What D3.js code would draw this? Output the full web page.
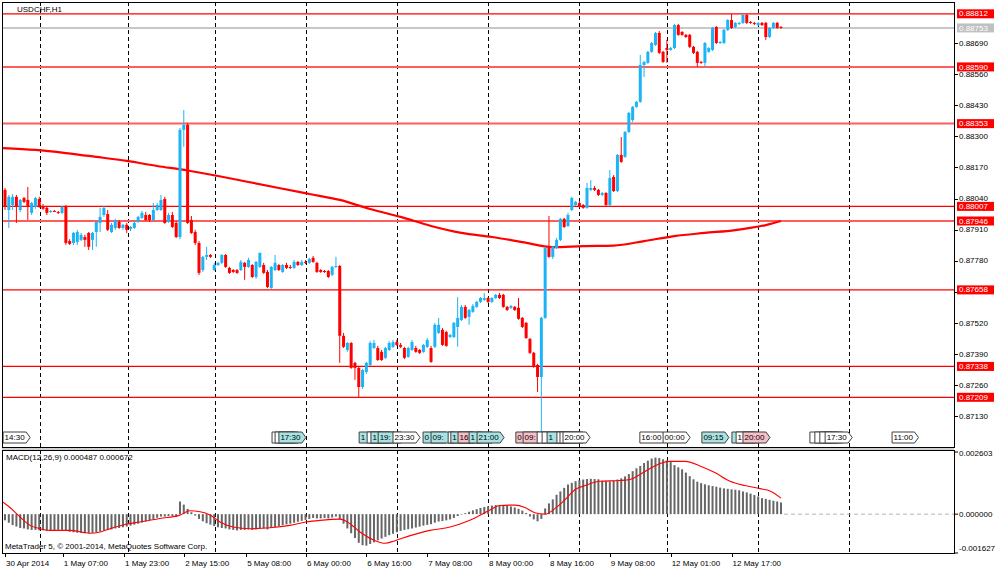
<!DOCTYPE html>
<html>
<head>
<meta charset="utf-8">
<script src="https://cdn.jsdelivr.net/npm/d3@7"></script>
<style>
  body { margin: 0; background: #fff; }
  text { font-family: "Liberation Sans", Arial, sans-serif; font-size: 8px; fill: #000; }
</style>
</head>
<body>
<svg id="chart" width="1000" height="574"></svg>
<script>
// USDCHF H1, 30 Apr 2014 15:00 .. 13 May 2014 ; one row per bar: open, high, low, close
const bars = [
  [.88076,.88084,.87992,.88005],[.87992,.88055,.87917,.88047],[.88013,.88059,.87992,.88047],[.88047,.88055,.87938,.88005],
  [.87992,.88038,.87984,.88034],[.88042,.88047,.88021,.88026],[.88034,.88088,.87950,.88005],[.87980,.88026,.87971,.88021],
  [.88005,.88047,.87997,.88042],[.88038,.88047,.88001,.88005],[.88005,.88017,.87992,.87997],[.88001,.88009,.87971,.87980],
  [.87984,.87992,.87980,.87988],[.87988,.87992,.87984,.87986],[.87984,.87988,.87975,.87980],[.87980,.88009,.87975,.88005],
  [.88005,.88013,.87846,.87854],[.87862,.87870,.87846,.87850],[.87854,.87900,.87846,.87896],[.87858,.87909,.87846,.87900],
  [.87867,.87896,.87862,.87888],[.87879,.87888,.87838,.87867],[.87896,.87900,.87825,.87838],[.87867,.87900,.87825,.87896],
  [.87900,.87942,.87838,.87942],[.87938,.88001,.87900,.87963],[.87971,.88009,.87963,.88001],[.87975,.87992,.87904,.87909],
  [.87900,.87938,.87896,.87930],[.87917,.87955,.87909,.87950],[.87942,.87950,.87913,.87917],[.87917,.87934,.87909,.87930],
  [.87930,.87938,.87896,.87909],[.87913,.87925,.87904,.87921],[.87917,.87946,.87913,.87938],[.87942,.87967,.87938,.87963],
  [.87959,.87988,.87955,.87980],[.87971,.87984,.87946,.87950],[.87971,.87975,.87942,.87950],[.87950,.88021,.87946,.87992],
  [.87992,.88021,.87988,.88013],[.87992,.88055,.87988,.88034],[.88038,.88047,.87934,.87938],[.87942,.87980,.87938,.87971],
  [.87971,.87984,.87917,.87921],[.87938,.87946,.87875,.87879],[.87879,.88335,.87870,.88327],[.88327,.88410,.88256,.88348],
  [.88348,.88356,.87934,.87938],[.87950,.87967,.87892,.87896],[.87900,.87909,.87846,.87854],[.87854,.87862,.87720,.87729],
  [.87741,.87800,.87733,.87796],[.87796,.87838,.87783,.87804],[.87804,.87808,.87792,.87796],[.87741,.87771,.87737,.87762],
  [.87762,.87775,.87758,.87771],[.87771,.87808,.87766,.87804],[.87804,.87808,.87750,.87754],[.87750,.87754,.87725,.87729],
  [.87741,.87745,.87729,.87733],[.87741,.87745,.87725,.87729],[.87741,.87783,.87737,.87775],[.87771,.87775,.87700,.87754],
  [.87754,.87792,.87750,.87783],[.87762,.87766,.87708,.87712],[.87712,.87779,.87704,.87775],[.87754,.87813,.87750,.87813],
  [.87762,.87771,.87725,.87729],[.87733,.87741,.87666,.87670],[.87666,.87758,.87662,.87754],[.87741,.87804,.87737,.87771],
  [.87762,.87766,.87737,.87741],[.87733,.87766,.87729,.87762],[.87762,.87771,.87745,.87750],[.87754,.87762,.87745,.87750],
  [.87750,.87783,.87745,.87775],[.87775,.87779,.87758,.87762],[.87762,.87783,.87758,.87775],[.87775,.87783,.87766,.87771],
  [.87771,.87792,.87766,.87787],[.87792,.87800,.87771,.87775],[.87771,.87775,.87729,.87733],[.87741,.87745,.87729,.87733],
  [.87737,.87741,.87729,.87733],[.87737,.87741,.87708,.87712],[.87721,.87758,.87716,.87754],[.87754,.87796,.87750,.87758],
  [.87758,.87762,.87353,.87466],[.87466,.87478,.87415,.87420],[.87407,.87440,.87399,.87436],[.87436,.87440,.87328,.87332],
  [.87353,.87357,.87282,.87332],[.87332,.87336,.87211,.87252],[.87252,.87328,.87244,.87323],[.87315,.87357,.87307,.87353],
  [.87344,.87444,.87340,.87436],[.87415,.87449,.87411,.87436],[.87415,.87424,.87361,.87365],[.87399,.87407,.87361,.87365],
  [.87374,.87420,.87369,.87415],[.87407,.87444,.87403,.87436],[.87420,.87449,.87415,.87440],[.87440,.87449,.87424,.87428],
  [.87428,.87436,.87415,.87420],[.87415,.87420,.87369,.87374],[.87378,.87420,.87374,.87415],[.87407,.87449,.87403,.87440],
  [.87415,.87424,.87395,.87399],[.87407,.87411,.87390,.87395],[.87399,.87432,.87395,.87428],[.87420,.87457,.87415,.87449],
  [.87415,.87424,.87353,.87357],[.87420,.87520,.87415,.87512],[.87478,.87541,.87474,.87512],[.87491,.87499,.87424,.87428],
  [.87482,.87487,.87420,.87424],[.87461,.87474,.87457,.87470],[.87461,.87524,.87457,.87520],[.87503,.87628,.87420,.87541],
  [.87532,.87595,.87528,.87587],[.87587,.87595,.87537,.87541],[.87545,.87578,.87512,.87574],[.87566,.87599,.87562,.87591],
  [.87587,.87612,.87583,.87608],[.87608,.87628,.87603,.87624],[.87616,.87645,.87612,.87624],[.87624,.87628,.87603,.87608],
  [.87608,.87628,.87603,.87624],[.87624,.87641,.87620,.87637],[.87637,.87645,.87620,.87624],[.87637,.87641,.87583,.87587],
  [.87587,.87591,.87570,.87574],[.87583,.87595,.87578,.87591],[.87587,.87591,.87570,.87574],[.87583,.87624,.87533,.87537],
  [.87541,.87545,.87499,.87503],[.87520,.87524,.87453,.87457],[.87453,.87457,.87390,.87395],[.87395,.87399,.87332,.87336],
  [.87344,.87349,.87231,.87294],[.87294,.87545,.87031,.87541],[.87541,.87838,.87537,.87833],[.87833,.87967,.87792,.87796],
  [.87796,.87842,.87787,.87838],[.87833,.87875,.87829,.87867],[.87867,.87959,.87862,.87955],[.87955,.87959,.87917,.87921],
  [.87925,.87980,.87921,.87971],[.87992,.88047,.87988,.88042],[.88013,.88030,.88009,.88026],[.88021,.88030,.88001,.88005],
  [.88013,.88017,.87997,.88001],[.88001,.88105,.87997,.88084],[.88076,.88117,.88071,.88084],[.88084,.88092,.88071,.88076],
  [.88076,.88080,.88050,.88055],[.88055,.88067,.88050,.88063],[.88063,.88067,.88009,.88013],[.88013,.88159,.88009,.88126],
  [.88130,.88138,.88067,.88071],[.88071,.88226,.88067,.88222],[.88222,.88297,.88189,.88193],[.88214,.88322,.88210,.88318],
  [.88318,.88402,.88314,.88398],[.88368,.88427,.88360,.88423],[.88423,.88448,.88419,.88444],[.88444,.88640,.88440,.88598],
  [.88598,.88615,.88548,.88611],[.88607,.88657,.88603,.88653],[.88653,.88694,.88649,.88690],[.88682,.88736,.88678,.88732],
  [.88732,.88740,.88644,.88649],[.88653,.88657,.88607,.88611],[.88669,.88703,.88607,.88661],[.88661,.88674,.88657,.88669],
  [.88669,.88770,.88665,.88765],[.88765,.88770,.88720,.88724],[.88736,.88740,.88720,.88724],[.88724,.88728,.88711,.88715],
  [.88724,.88728,.88669,.88674],[.88674,.88678,.88644,.88649],[.88653,.88657,.88590,.88607],[.88611,.88615,.88603,.88607],
  [.88607,.88694,.88590,.88690],[.88653,.88673,.88649,.88669],[.88661,.88757,.88657,.88753],[.88757,.88761,.88686,.88690],
  [.88690,.88699,.88686,.88694],[.88690,.88749,.88686,.88745],[.88745,.88790,.88740,.88786],[.88786,.88811,.88749,.88753],
  [.88757,.88778,.88753,.88774],[.88770,.88778,.88765,.88774],[.88774,.88811,.88770,.88807],[.88807,.88811,.88770,.88774],
  [.88778,.88782,.88770,.88774],[.88774,.88778,.88765,.88770],[.88765,.88778,.88761,.88774],[.88774,.88778,.88761,.88765],
  [.88774,.88778,.88703,.88715],[.88715,.88757,.88711,.88753],[.88753,.88778,.88749,.88774],[.88774,.88778,.88749,.88753],
  [.88757,.88761,.88749,.88753]
];

// moving average read at sample bars
const maBar = [-0.5, 8, 16, 24, 32, 40, 48, 56, 64, 72, 80, 88, 96, 104, 112, 120, 128, 136, 144, 152, 160, 168, 176, 184, 192, 200, 204];
const maVal = [.88251, .88243, .88230, .88214, .88197, .88176, .88157, .88134, .88109, .88084, .88059, .88034, .87996,
               .87963, .87925, .87896, .87879, .87858, .87837, .87841, .87843, .87862, .87883, .87896, .87908, .87929, .87946];

// MACD(12,26,9) histogram, one per bar
const macdHist = [
  -.00026,-.00036,-.00046,-.00052,-.00058,-.00060,-.00064,-.00066,-.00066,-.00068,-.00068,-.00070,-.00070,-.00068,-.00066,-.00066,
  -.00070,-.00074,-.00076,-.00078,-.00078,-.00080,-.00080,-.00078,-.00076,-.00072,-.00068,-.00066,-.00064,-.00060,-.00058,-.00055,
  -.00052,-.00048,-.00044,-.00040,-.00035,-.00030,-.00026,-.00020,-.00015,-.00010,-.00010,-.00008,-.00008,-.00012,.00053,.00040,
  .00022,.00008,-.00006,-.00020,-.00030,-.00038,-.00044,-.00050,-.00055,-.00058,-.00060,-.00064,-.00066,-.00068,-.00066,-.00066,
  -.00064,-.00066,-.00064,-.00060,-.00060,-.00064,-.00058,-.00054,-.00050,-.00046,-.00043,-.00040,-.00036,-.00032,-.00028,-.00024,
  -.00020,-.00016,-.00018,-.00018,-.00016,-.00018,-.00014,-.00010,-.00022,-.00040,-.00060,-.00080,-.00100,-.00120,-.00130,-.00132,
  -.00125,-.00118,-.00110,-.00102,-.00095,-.00088,-.00082,-.00076,-.00070,-.00066,-.00063,-.00060,-.00056,-.00052,-.00048,-.00045,
  -.00042,-.00036,-.00031,-.00029,-.00026,-.00022,-.00016,-.00008,-.00002,.00004,.00010,.00016,.00021,.00026,.00030,.00033,
  .00036,.00038,.00038,.00036,.00034,.00032,.00028,.00022,.00015,.00005,-.00010,-.00022,-.00030,-.00020,.00024,.00045,
  .00062,.00081,.00095,.00110,.00124,.00131,.00138,.00142,.00145,.00147,.00148,.00147,.00146,.00140,.00138,.00137,
  .00140,.00145,.00150,.00158,.00168,.00180,.00192,.00202,.00214,.00224,.00233,.00237,.00235,.00230,.00225,.00218,
  .00205,.00196,.00188,.00174,.00159,.00146,.00136,.00130,.00125,.00121,.00118,.00115,.00111,.00108,.00106,.00104,
  .00102,.00100,.00095,.00091,.00086,.00080,.00074,.00067,.00064,.00060,.00056,.00053,.00049
];

// MACD signal line read at sample bars
const sigBar = [-0.5, 1.3, 3.9, 6.6, 9.2, 11.8, 17, 22.3, 25, 27.6, 31.5, 35.5, 40.7, 46, 48.6, 51.3, 53.9, 56.5, 60, 64.4,
                69.7, 74.9, 79.1, 82.8, 88, 90.7, 93.3, 97.3, 99.9, 102.5, 106.5, 111.7, 117, 122.2, 127.5, 130, 134,
                136.7, 139.3, 142, 144.6, 147.2, 149.8, 152.5, 156.4, 161.7, 164.3, 166.9, 169.6, 172.2, 174.8, 178.8,
                182.7, 186.6, 190.6, 194.5, 198.5, 201.1, 204];
const sigVal = [.00050, .00028, -.00011, -.00047, -.00061, -.00068, -.00068, -.00080, -.00075, -.00061, -.00043, -.00033,
                -.00018, -.00004, .00014, .00010, -.00004, -.00033, -.00054, -.00061, -.00057, -.00047, -.00033, -.00026,
                -.00021, -.00040, -.00075, -.00111, -.00122, -.00111, -.00090, -.00068, -.00054, -.00026, .00017, .00036,
                .00038, .00028, .00006, 0, .00024, .00060, .00102, .00120, .00138, .00141, .00145, .00166, .00191, .00212,
                .00221, .00221, .00202, .00174, .00138, .00120, .00107, .00097, .00067];

// horizontal levels drawn on the chart
const levelPrices = [0.88812, 0.88590, 0.88353, 0.88007, 0.87946, 0.87658, 0.87338, 0.87209];
const levelThick  = [false, true, true, false, true, false, false, false];
const lastPrice = 0.88753;

const priceTicks = [0.88690, 0.88560, 0.88430, 0.88300, 0.88170, 0.88040, 0.87910, 0.87780, 0.87650, 0.87520, 0.87390, 0.87260, 0.87130];
const macdTicks = [0.002603, 0.000000, -0.001627];

const timeBars = [0, 15.2, 31.3, 47.1, 63.4, 79.1, 95, 111, 127, 143, 159, 175, 191];
const timeLabels = ["30 Apr 2014", "1 May 07:00", "1 May 23:00", "2 May 15:00", "5 May 08:00", "6 May 00:00", "6 May 16:00",
                    "7 May 08:00", "8 May 00:00", "8 May 16:00", "9 May 08:00", "12 May 01:00", "12 May 17:00"];
const gridBars = [9.2, 32.3, 55.2, 79.1, 103, 127, 150.9, 174.1, 198, 221.9];

// economic calendar tags
const tagBars = [-0.5, 70.2, 71.0, 72.0, 93.1, 95.2, 96.2, 98.1, 102.0, 109.9, 112.0, 116.5, 117.2, 119.1, 122.0, 124.1,
                 134.3, 136.2, 139.9, 141.2, 142.5, 145.1, 145.9, 146.7, 166.9, 173.0, 183.2, 191.1, 192.2, 194.0,
                 211.6, 212.9, 214.2, 215.6, 233.2];
const tagTexts = ["14:30","15:00","16:00","17:30","13:30","14:00","15:00","19:00","23:30","05:00","09:00","12:30","13:00",
                  "16:00","18:00","21:00","06:00","09:00","11:45","12:30","13:30","15:00","16:00","20:00","16:00","00:00",
                  "09:15","17:00","18:00","20:00","11:00","12:30","14:00","17:30","11:00"];
const tagKinds = ["w","w","w","c","c","w","c","c","w","c","c","w","c","p","c","c","p","p","w","w","c","w","w","w","w","w",
                  "c","c","w","p","w","w","w","w","w"];

const left = 2, right = 954, mainTop = 2, mainBottom = 447, macdTop = 450, macdBottom = 553;
const bull = "#1cb4f6", bear = "#ff0000";
const tagFill = { w: "#ffffff", c: "#a8e2e2", p: "#f6bec6" };

const svg = d3.select("#chart");

const x = d3.scaleLinear().domain([0, bars.length - 1]).range([5, 781]);
const y = d3.scaleLinear().domain([0.87130, 0.88690]).range([416.2, 43]);
const ym = d3.scaleLinear().domain([-0.001627, 0.002603]).range([macdBottom, 452]);

svg.append("rect").attr("width", 1000).attr("height", 574).attr("fill", "#fff");

// clip paths
svg.append("clipPath").attr("id", "clipMain").append("rect")
  .attr("x", left).attr("y", mainTop).attr("width", right - left).attr("height", mainBottom - mainTop);
svg.append("clipPath").attr("id", "clipMacd").append("rect")
  .attr("x", left).attr("y", macdTop).attr("width", right - left).attr("height", macdBottom - macdTop);

// vertical dashed grid, both panels
[[mainTop, mainBottom], [macdTop, macdBottom]].forEach(function (p) {
  svg.selectAll(null)
    .data(gridBars)
    .join("line")
    .attr("x1", d => Math.round(x(d)) + 0.5).attr("x2", d => Math.round(x(d)) + 0.5)
    .attr("y1", p[0]).attr("y2", p[1])
    .attr("stroke", "#000").attr("stroke-width", 1).attr("stroke-dasharray", "4,3");
});

const main = svg.append("g").attr("clip-path", "url(#clipMain)");

// levels
main.append("line")
  .attr("x1", left).attr("x2", right).attr("y1", y(lastPrice)).attr("y2", y(lastPrice))
  .attr("stroke", "#c8c8c8").attr("stroke-width", 2);
main.selectAll(".level")
  .data(levelPrices)
  .join("line")
  .attr("class", "level")
  .attr("x1", left).attr("x2", right)
  .attr("y1", d => y(d)).attr("y2", d => y(d))
  .attr("stroke", (d, i) => levelThick[i] ? "#ff5c5c" : "#ff0000")
  .attr("stroke-width", (d, i) => levelThick[i] ? 2 : 1.2);

// moving average
main.append("path")
  .datum(maBar.map((b, i) => [b, maVal[i]]))
  .attr("fill", "none").attr("stroke", "#ff0000").attr("stroke-width", 2.2)
  .attr("d", d3.line().x(d => x(d[0])).y(d => y(d[1])).curve(d3.curveMonotoneX));

// candles
const candle = main.selectAll(".candle")
  .data(bars)
  .join("g")
  .attr("class", "candle");
candle.append("line")
  .attr("x1", (d, i) => x(i)).attr("x2", (d, i) => x(i))
  .attr("y1", d => y(d[1])).attr("y2", d => y(d[2]))
  .attr("stroke", d => d[3] >= d[0] ? bull : bear).attr("stroke-width", 1);
candle.append("rect")
  .attr("x", (d, i) => x(i) - 1.5)
  .attr("width", 3)
  .attr("y", d => y(Math.max(d[0], d[3])))
  .attr("height", d => Math.max(1, Math.abs(y(d[0]) - y(d[3]))))
  .attr("fill", d => d[3] >= d[0] ? bull : bear);

// calendar tags: each later tag covers the previous one, so only the visible part of a label is kept
const tagTop = 432, tagBot = 443;
tagBars.forEach(function (b, i) {
  const x0 = x(b);
  const g = main.append("g");
  const path = g.append("path");
  const t = g.append("text")
    .attr("x", x0 + 1.5).attr("y", (tagTop + tagBot) / 2 + 0.5)
    .attr("dominant-baseline", "middle")
    .text(tagTexts[i]);
  const w = t.node().getComputedTextLength() + 3;
  path.attr("d", "M" + x0 + "," + tagTop + "H" + (x0 + w) + "L" + (x0 + w + 4) + "," + ((tagTop + tagBot) / 2) +
                 "L" + (x0 + w) + "," + tagBot + "H" + x0 + "Z")
    .attr("fill", tagFill[tagKinds[i]]).attr("stroke", "#404040").attr("stroke-width", 1);
  if (i < tagBars.length - 1) {
    const room = x(tagBars[i + 1]) - x0 - 2;
    let s = tagTexts[i];
    while (s.length && t.node().getComputedTextLength() > room) {
      s = s.slice(0, -1);
      t.text(s);
    }
    if (!s.length) t.remove();
  }
});

// MACD panel
const macd = svg.append("g").attr("clip-path", "url(#clipMacd)");
macd.append("line")
  .attr("x1", x(bars.length - 1) + 3).attr("x2", right)
  .attr("y1", ym(0)).attr("y2", ym(0))
  .attr("stroke", "#b4b4b4").attr("stroke-dasharray", "4,3");
macd.selectAll(".hist")
  .data(macdHist)
  .join("rect")
  .attr("class", "hist")
  .attr("x", (d, i) => x(i) - 1)
  .attr("width", 2)
  .attr("y", d => ym(Math.max(0, d)))
  .attr("height", d => Math.abs(ym(d) - ym(0)))
  .attr("fill", "#666");
macd.append("path")
  .datum(sigBar.map((b, i) => [b, sigVal[i]]))
  .attr("fill", "none").attr("stroke", "#ff0000").attr("stroke-width", 1.1)
  .attr("d", d3.line().x(d => x(d[0])).y(d => ym(d[1])).curve(d3.curveMonotoneX));

// frames
svg.append("rect").attr("x", left + 0.5).attr("y", mainTop + 0.5)
  .attr("width", right - left).attr("height", mainBottom - mainTop)
  .attr("fill", "none").attr("stroke", "#000");
svg.append("line").attr("x1", left).attr("x2", right).attr("y1", mainBottom + 2).attr("y2", mainBottom + 2)
  .attr("stroke", "#a0a0a0");
svg.append("rect").attr("x", left + 0.5).attr("y", macdTop + 0.5)
  .attr("width", right - left).attr("height", macdBottom - macdTop)
  .attr("fill", "none").attr("stroke", "#000");

// price axis (a tick label that sits under a level box is hidden, as on the terminal)
const boxPrices = levelPrices.concat([lastPrice]);
const shownTicks = priceTicks.filter(p => !boxPrices.some(b => Math.abs(y(b) - y(p)) < 6));
svg.selectAll(".ptick")
  .data(priceTicks)
  .join("line")
  .attr("x1", right).attr("x2", right + 4)
  .attr("y1", d => Math.round(y(d)) + 0.5).attr("y2", d => Math.round(y(d)) + 0.5)
  .attr("stroke", "#000");
svg.selectAll(".plabel")
  .data(shownTicks)
  .join("text")
  .attr("x", right + 5).attr("y", d => y(d) + 0.5)
  .attr("dominant-baseline", "middle")
  .text(d => d.toFixed(5));

// level value boxes
function priceBox(p, fill) {
  svg.append("rect")
    .attr("x", right + 3).attr("y", y(p) - 4.5).attr("width", 37).attr("height", 9)
    .attr("fill", fill);
  svg.append("text")
    .attr("x", right + 5).attr("y", y(p) + 0.5)
    .attr("dominant-baseline", "middle")
    .style("fill", "#fff")
    .text(p.toFixed(5));
}
priceBox(lastPrice, "#c0c0c0");
levelPrices.forEach(p => priceBox(p, "#ff0000"));

// MACD axis
svg.selectAll(".mtick")
  .data(macdTicks)
  .join("line")
  .attr("x1", right).attr("x2", right + 4)
  .attr("y1", d => ym(d)).attr("y2", d => ym(d))
  .attr("stroke", "#000");
svg.selectAll(".mlabel")
  .data(macdTicks)
  .join("text")
  .attr("x", right + 5)
  .attr("y", d => d > 0 ? ym(d) + 1.5 : d < 0 ? ym(d) - 4.5 : ym(d) + 0.5)
  .attr("dominant-baseline", "middle")
  .text(d => d.toFixed(6));

// time axis
svg.selectAll(".ttick")
  .data(timeBars)
  .join("line")
  .attr("x1", d => Math.round(x(d)) + 0.5).attr("x2", d => Math.round(x(d)) + 0.5)
  .attr("y1", macdBottom).attr("y2", macdBottom + 4)
  .attr("stroke", "#000");
svg.selectAll(".tlabel")
  .data(timeBars)
  .join("text")
  .attr("x", d => Math.max(3, x(d) + 1)).attr("y", 563.5)
  .attr("dominant-baseline", "middle")
  .text((d, i) => timeLabels[i]);

// captions
svg.append("text").attr("x", 17).attr("y", 9.5).attr("dominant-baseline", "middle").text("USDCHF,H1");
svg.append("text").attr("x", 6).attr("y", 458).attr("dominant-baseline", "middle").text("MACD(12,26,9) 0.000487 0.000672");
svg.append("text").attr("x", 5).attr("y", 547).attr("dominant-baseline", "middle")
  .text("MetaTrader 5, © 2001-2014, MetaQuotes Software Corp.");
</script>
</body>
</html>
